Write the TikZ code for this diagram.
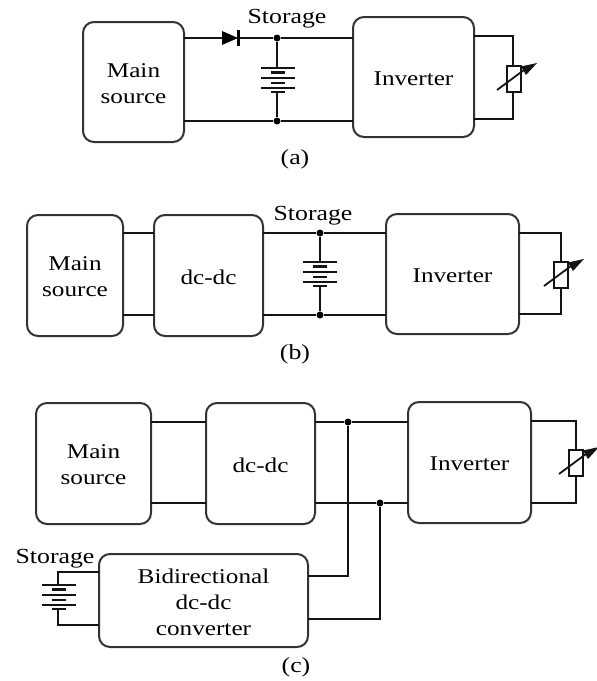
\documentclass[tikz,border=0pt]{standalone}
\usepackage{fontspec}
\setmainfont[FakeStretch=1.2]{Liberation Serif}
\begin{document}
\begin{tikzpicture}[x=1pt,y=-1pt,
  wire/.style={line width=2.4pt,black!92,line cap=butt},
  block/.style={draw=black!80,line width=2pt,rounded corners=11pt,inner sep=0pt,outer sep=0pt,anchor=north west},
  blocktext/.style={align=center,inner sep=0pt,yshift=-1.5pt,font=\fontsize{21}{26}\selectfont,text=black},
  lbl/.style={inner sep=0pt,yshift=-2.5pt,font=\fontsize{21.5}{24}\selectfont,text=black},
  dot/.style={circle,fill=black,inner sep=0pt,minimum size=7pt},
  plate/.style={line width=2pt,black!92},
  batt/.pic={
    \draw[plate] (-17,0)--(17,0) (-17,10)--(17,10) (-17,20)--(17,20);
    \draw[plate,line width=2.8pt] (-7,4.5)--(7,4.5) (-7,15)--(7,15) (-7,24)--(7,24);
  },
  rheo/.pic={
    \draw[line width=2pt,black!92,fill=white] (-7,-13) rectangle (7,13);
    \draw[line width=1.8pt,black!92] (-17,11)--(10,-9);
    \fill[black!92] (23,-16)--(7,-12.5)--(12,-4)--cycle;
  }]
\useasboundingbox (0,0) rectangle (597,681);
\def\bx#1#2#3#4#5#6{\node[block,minimum width=#4pt-#2pt,minimum height=#5pt-#3pt,label={[blocktext]center:{#6}}] (#1) at (#2,#3) {};}

% ---------- (a)
\bx{am}{83}{22}{184}{142}{Main\\source}
\bx{ai}{353}{17}{474}{137}{Inverter}
\coordinate (aT) at (0,38); \coordinate (aB) at (0,121);
\coordinate (aRT) at (513,36); \coordinate (aRB) at (513,119);
\node[dot] (aj1) at (277,38) {};
\node[dot] (aj2) at (277,121) {};
\coordinate (ad1) at (222,38); \coordinate (ad2) at (238,38);
\draw[wire] (am.east|-aT) -- (ad1) (ad2) -- (aj1) -- (ai.west|-aT);
\draw[wire] (am.east|-aB) -- (aj2) -- (ai.west|-aB);
\fill[black] (ad1)++(0,-7) -- (ad2) -- ++(-16,7) -- cycle;
\draw[line width=2.2pt] (238.5,30) -- (238.5,46);
\draw[wire] (aj1) -- (277,68) (277,92) -- (aj2);
\pic at (278,68) {batt};
\draw[wire] (ai.east|-aRT) -- (aRT) -- (aRB) -- (ai.east|-aRB);
\pic at (514,79) {rheo};
\node[lbl] (as) at (287,16) {Storage};
\node[lbl] (ac) at (295,157) {(a)};

% ---------- (b)
\bx{bm}{27}{215}{123}{336}{Main\\source}
\bx{bd}{154}{215}{263}{336}{dc-dc}
\bx{bi}{386}{214}{519}{334}{Inverter}
\coordinate (bT) at (0,233); \coordinate (bB) at (0,315);
\coordinate (bRT) at (561,233); \coordinate (bRB) at (561,314);
\node[dot] (bj1) at (320,233) {};
\node[dot] (bj2) at (320,315) {};
\draw[wire] (bm.east|-bT) -- (bd.west|-bT) (bm.east|-bB) -- (bd.west|-bB);
\draw[wire] (bd.east|-bT) -- (bj1) -- (bi.west|-bT);
\draw[wire] (bd.east|-bB) -- (bj2) -- (bi.west|-bB);
\draw[wire] (bj1) -- (320,262) (320,286) -- (bj2);
\pic at (320,262) {batt};
\draw[wire] (bi.east|-bRT) -- (bRT) -- (bRB) -- (bi.east|-bRB);
\pic at (561,275) {rheo};
\node[lbl] (bs) at (313,213) {Storage};
\node[lbl] (bc) at (295,352) {(b)};

% ---------- (c)
\bx{cm}{36}{403}{151}{524}{Main\\source}
\bx{cd}{206}{403}{315}{524}{dc-dc}
\bx{ci}{408}{402}{531}{523}{Inverter}
\bx{cb}{99}{554}{308}{647}{Bidirectional\\dc-dc\\converter}
\coordinate (cT) at (0,422); \coordinate (cB) at (0,503);
\coordinate (cRT) at (576,421); \coordinate (cRB) at (576,503);
\node[dot] (cj1) at (348,422) {};
\node[dot] (cj2) at (380,503) {};
\draw[wire] (cm.east|-cT) -- (cd.west|-cT) (cm.east|-cB) -- (cd.west|-cB);
\draw[wire] (cd.east|-cT) -- (cj1) -- (ci.west|-cT);
\draw[wire] (cd.east|-cB) -- (cj2) -- (ci.west|-cB);
\coordinate (cU) at (0,576); \coordinate (cL) at (0,619);
\draw[wire] (cb.east|-cU) -- (cj1|-cU) -- (cj1);
\draw[wire] (cb.east|-cL) -- (cj2|-cL) -- (cj2);
\draw[wire] (ci.east|-cRT) -- (cRT) -- (cRB) -- (ci.east|-cRB);
\pic at (576,463) {rheo};
\coordinate (cS1) at (58,572); \coordinate (cS2) at (58,625);
\draw[wire] (cb.west|-cS1) -- (cS1) -- (58,585);
\draw[wire] (cb.west|-cS2) -- (cS2) -- (58,609);
\pic at (59,585) {batt};
\node[lbl] (cs) at (55,556) {Storage};
\node[lbl] (cc) at (296,665) {(c)};
\end{tikzpicture}
\end{document}
